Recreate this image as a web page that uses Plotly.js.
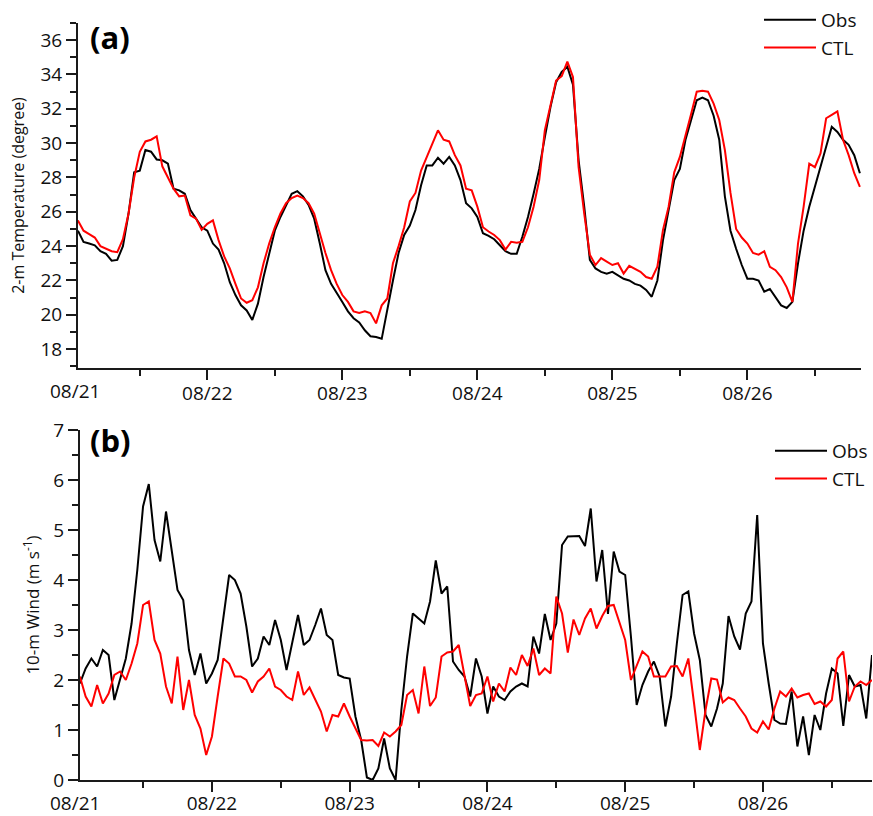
<!DOCTYPE html>
<html><head><meta charset="utf-8">
<script src="https://cdn.plot.ly/plotly-3.0.1.min.js"></script>
<style>html,body{margin:0;padding:0;background:#fff}#chart{width:873px;height:816px}</style>
</head><body><div id="chart"></div>
<script>
// hours since 08/21 00:00
const hours = [1,2,3,4,5,6,7,8,9,10,11,12,13,14,15,16,17,18,19,20,
21,22,23,24,25,26,27,28,29,30,31,32,33,34,35,36,37,38,39,40,
41,42,43,44,45,46,47,48,49,50,51,52,53,54,55,56,57,58,59,60,
61,62,63,64,65,66,67,68,69,70,71,72,73,74,75,76,77,78,79,80,
81,82,83,84,85,86,87,88,89,90,91,92,93,94,95,96,97,98,99,100,
101,102,103,104,105,106,107,108,109,110,111,112,113,114,115,116,117,118,119,120,
121,122,123,124,125,126,127,128,129,130,131,132,133,134,135,136,137,138,139,140];

const dayTickHours = [0,24,48,72,96,120];
const dayTickLabels = ['08/21','08/22','08/23','08/24','08/25','08/26'];

// (a) 2-m temperature
const tempObs = [24.9,24.25,24.15,24.05,23.7,23.55,23.15,23.2,24.0,25.9,
28.3,28.4,29.6,29.5,29.05,29.0,28.8,27.35,27.25,27.05,
26.1,25.6,25.1,24.9,24.15,23.8,23.0,21.9,21.15,20.55,
20.25,19.7,20.65,22.2,23.6,24.9,25.7,26.4,27.05,27.2,
26.9,26.4,25.6,24.15,22.6,21.8,21.3,20.75,20.2,19.8,
19.55,19.1,18.75,18.7,18.6,20.35,22.0,23.6,24.65,25.2,
26.1,27.55,28.7,28.7,29.15,28.8,29.2,28.7,27.85,26.5,
26.2,25.7,24.75,24.6,24.4,24.05,23.7,23.55,23.55,24.55,
25.7,27.05,28.5,30.35,32.1,33.55,34.15,34.45,33.4,29.0,
26.3,23.2,22.7,22.5,22.4,22.5,22.3,22.1,22.0,21.8,
21.7,21.45,21.05,22.0,24.35,26.1,27.85,28.5,30.2,31.35,
32.5,32.65,32.5,31.6,30.2,26.9,24.9,23.85,22.9,22.1,
22.1,22.0,21.35,21.5,21.05,20.55,20.4,20.75,23.0,24.9,
26.3,27.45,28.5,29.8,30.95,30.65,30.2,29.9,29.3,28.25];

const tempCTL = [25.5,24.9,24.7,24.5,24.0,23.85,23.7,23.65,24.4,25.9,
28.0,29.5,30.1,30.2,30.4,28.65,28.0,27.35,26.9,26.95,
25.8,25.6,24.95,25.3,25.5,24.35,23.4,22.7,21.8,20.95,
20.7,20.85,21.6,23.0,24.15,25.1,25.9,26.5,26.8,26.95,
26.8,26.5,25.9,24.7,23.6,22.6,21.8,21.15,20.75,20.2,
20.1,20.2,20.1,19.5,20.55,20.95,23.0,24.0,25.1,26.6,
27.1,28.4,29.2,30.0,30.75,30.2,30.1,29.3,28.7,27.35,
27.25,26.3,25.1,24.85,24.65,24.35,23.8,24.25,24.2,24.25,
25.1,26.3,27.85,30.75,32.3,33.65,33.9,34.75,33.85,28.6,
25.9,23.5,22.9,23.3,23.1,22.9,23.0,22.4,22.85,22.65,
22.5,22.2,22.1,22.8,24.95,26.3,28.3,29.2,30.4,31.7,
33.0,33.05,33.0,32.3,31.35,29.6,27.1,25.0,24.5,24.15,
23.6,23.5,23.7,22.8,22.6,22.2,21.6,20.75,24.15,26.3,
28.8,28.6,29.4,31.45,31.65,31.85,30.2,29.3,28.25,27.45];

// (b) 10-m wind (visible part, hours 1-139)
const windObs = [1.93,2.23,2.43,2.27,2.6,2.5,1.6,2.0,2.43,3.13,
4.2,5.47,5.92,4.8,4.37,5.37,4.53,3.8,3.6,2.6,
2.1,2.53,1.93,2.13,2.4,3.27,4.1,4.0,3.73,3.07,
2.27,2.43,2.87,2.7,3.2,2.8,2.2,2.75,3.3,2.7,
2.8,3.1,3.43,2.9,2.8,2.1,2.05,2.03,1.27,0.8,
0.05,0.0,0.23,0.83,0.23,0.0,1.4,2.47,3.33,3.23,
3.13,3.57,4.39,3.73,3.87,2.37,2.2,2.07,1.67,2.43,
2.07,1.33,1.87,1.67,1.6,1.77,1.87,1.93,1.87,2.87,
2.53,3.32,2.8,3.13,4.7,4.87,4.88,4.88,4.68,5.43,
3.97,4.6,3.32,4.57,4.17,4.1,2.87,1.5,1.9,2.17,
2.37,2.07,1.07,1.67,2.73,3.7,3.77,2.93,2.4,1.3,
1.07,1.43,1.93,3.28,2.87,2.61,3.33,3.57,5.3,2.73,
1.93,1.2,1.13,1.12,1.77,0.67,1.27,0.5,1.3,1.0,
1.73,2.23,2.13,1.08,2.1,1.87,1.9,1.23,2.5];

const windCTL = [2.07,1.67,1.47,1.9,1.53,1.73,2.1,2.17,2.0,2.33,
2.73,3.5,3.57,2.8,2.53,1.87,1.53,2.47,1.4,2.0,
1.3,1.03,0.5,0.87,1.67,2.43,2.33,2.07,2.07,2.0,
1.75,1.97,2.07,2.23,1.87,1.8,1.67,1.6,2.17,1.7,
1.85,1.6,1.37,0.97,1.3,1.27,1.53,1.27,1.05,0.8,
0.79,0.8,0.68,0.95,0.87,0.97,1.1,1.7,1.8,1.33,
2.27,1.48,1.65,2.47,2.55,2.57,2.7,2.07,1.48,1.7,
1.73,2.07,1.57,1.93,1.77,2.25,2.1,2.5,2.28,2.63,
2.1,2.23,2.13,3.67,3.33,2.55,3.21,2.9,3.23,3.43,
3.03,3.28,3.48,3.5,3.17,2.8,2.0,2.27,2.57,2.47,
2.07,2.07,2.07,2.27,2.28,2.07,2.43,1.53,0.6,1.4,
2.03,2.01,1.55,1.65,1.6,1.43,1.27,1.03,0.95,1.17,
1.01,1.43,1.77,1.67,1.83,1.65,1.7,1.73,1.52,1.57,
1.47,1.6,2.43,2.57,1.57,1.87,1.97,1.9,2.0];

const seriesNames = ['Obs','CTL'];
const seriesColors = ['#000000','#ff0000'];

const W = 873, H = 816;
const AX = '#1a1a1a';
const FONT = '"Open Sans", "Noto Sans", sans-serif';

const windHours = hours.slice(0, windObs.length);

const traces = [
  {x: hours, y: tempObs, name: seriesNames[0], xaxis:'x', yaxis:'y', legend:'legend',
   mode:'lines', line:{color:seriesColors[0], width:2}},
  {x: hours, y: tempCTL, name: seriesNames[1], xaxis:'x', yaxis:'y', legend:'legend',
   mode:'lines', line:{color:seriesColors[1], width:2}},
  {x: windHours, y: windObs, name: seriesNames[0], xaxis:'x2', yaxis:'y2', legend:'legend2',
   mode:'lines', line:{color:seriesColors[0], width:2}},
  {x: windHours, y: windCTL, name: seriesNames[1], xaxis:'x2', yaxis:'y2', legend:'legend2',
   mode:'lines', line:{color:seriesColors[1], width:2}}
];

// the first day label (08/21) sits just left of the axis start, drawn as an annotation below
function xAx(domain, anchor, range, standoff){
  return {domain: domain, anchor: anchor, range: range,
    tickmode:'array', tickvals: dayTickHours.slice(1), ticktext: dayTickLabels.slice(1),
    ticks:'outside', ticklen:10, tickwidth:2, tickcolor:AX, ticklabelstandoff: standoff,
    showline:true, linecolor:AX, linewidth:2, showgrid:false, zeroline:false,
    tickfont:{size:19, color:'#111'},
    minor:{tick0:0, dtick:12, ticks:'outside', ticklen:6, tickwidth:2, tickcolor:AX, showgrid:false}};
}
function yAx(domain, anchor, range, dtick, mdtick, title, tsize, standoff){
  return {domain: domain, anchor: anchor, range: range, tick0:0, dtick: dtick,
    ticks:'outside', ticklen:10, tickwidth:2, tickcolor:AX,
    showline:true, linecolor:AX, linewidth:2, showgrid:false, zeroline:false,
    tickfont:{size:19, color:'#111'},
    minor:{tick0:0, dtick: mdtick, ticks:'outside', ticklen:6, tickwidth:2, tickcolor:AX, showgrid:false},
    title:{text: title, font:{size: tsize, color:'#111'}, standoff: standoff}};
}

const legendBase = {xanchor:'left', yanchor:'top', bgcolor:'rgba(0,0,0,0)',
  font:{size:19, color:'#111'}, itemwidth:52};

const layout = {
  width: W, height: H,
  margin:{l:0, r:0, t:0, b:0},
  paper_bgcolor:'#ffffff', plot_bgcolor:'#ffffff',
  font:{family: FONT, size:19, color:'#111'},
  showlegend:true,
  xaxis: xAx([78/W, 862/W], 'y', [1, 140.2], -3),
  yaxis: yAx([1-368/H, 1-23/H], 'x', [16.9, 37], 2, 1, '2-m Temperature (degree)', 16, 12),
  xaxis2: xAx([80/W, 1], 'y2', [1, 139], -5),
  yaxis2: yAx([1-780/H, 1-430/H], 'x2', [0, 7], 1, 0.5, '10-m Wind (m s<sup>-1</sup>)', 17, 9),
  legend: Object.assign({}, legendBase, {x: 759/W, y: 1-1/H}),
  legend2: Object.assign({}, legendBase, {x: 771/W, y: 1-432/H}),
  annotations: [
    {text:'<b>(a)</b>', xref:'paper', yref:'paper', x:88/W, y:1-37/H, xanchor:'left', yanchor:'middle',
     showarrow:false, font:{size:31, color:'#000'}},
    {text:'<b>(b)</b>', xref:'paper', yref:'paper', x:88/W, y:1-440/H, xanchor:'left', yanchor:'middle',
     showarrow:false, font:{size:31, color:'#000'}},
    {text: dayTickLabels[0], xref:'paper', yref:'paper', x:75/W, y:1-391/H, xanchor:'center', yanchor:'middle',
     showarrow:false, font:{size:19, color:'#111'}},
    {text: dayTickLabels[0], xref:'paper', yref:'paper', x:75/W, y:1-803/H, xanchor:'center', yanchor:'middle',
     showarrow:false, font:{size:19, color:'#111'}}
  ]
};

Plotly.newPlot('chart', traces, layout, {displayModeBar:false, staticPlot:true});
</script>
</body></html>
